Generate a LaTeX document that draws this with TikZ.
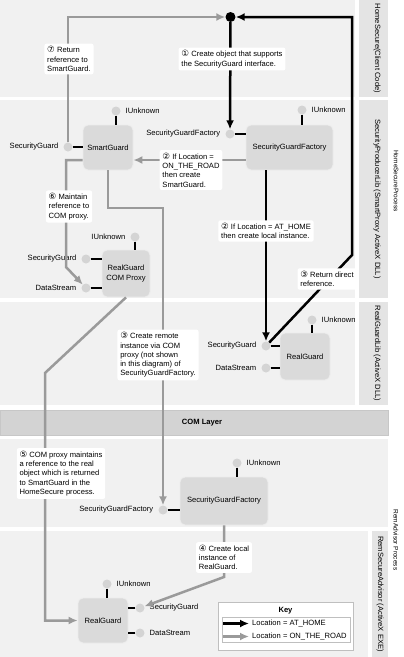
\documentclass[tikz,border=0pt]{standalone}
\usepackage{fontspec}
\setmainfont{Liberation Sans}
\newfontfamily\numfont{DejaVu Sans}
\usetikzlibrary{arrows.meta}

\definecolor{bandbg}{HTML}{F1F1F1}
\definecolor{stripbg}{HTML}{E4E4E4}
\definecolor{combg}{HTML}{D3D3D3}
\definecolor{boxbg}{HTML}{DADADA}
\definecolor{lollibg}{HTML}{D4D4D4}
\definecolor{roadgray}{HTML}{9A9A9A}

\newcommand{\diagfont}{\fontsize{7.6}{9.3}\selectfont}
\newcommand{\stepnum}[1]{{\numfont\fontsize{8.6}{9}\selectfont#1}}

\begin{document}
\begin{tikzpicture}[x=1pt,y=-1pt,font=\diagfont,label distance=1.5pt,
  band/.style={fill=bandbg},
  strip/.style={fill=stripbg},
  comp/.style={rounded corners=5pt,fill=boxbg,draw=black!7,line width=.8pt,align=center},
  lolli/.style={circle,fill=lollibg,inner sep=0pt,minimum size=9pt},
  stub/.style={line width=1.4pt},
  home/.style={line width=2.5pt,-{Latex[length=9pt,width=8pt]}},
  road/.style={line width=2.5pt,draw=roadgray,-{Latex[length=9pt,width=8pt]}},
  note/.style={fill=white,rounded corners=2pt,align=left,inner sep=2.8pt},
  vlabel/.style={rotate=-90}]
\useasboundingbox (0,0) rectangle (404,657);

% bands
\foreach \ya/\yb in {0/97,100/298,302/405} {
  \fill[band] (0,\ya) rectangle (355,\yb);
  \fill[strip] (359,\ya) rectangle (388,\yb);
}
\fill[combg,draw=black!22] (0,410) rectangle (388,435);
\fill[band] (0,439) rectangle (388,527);
\fill[band] (0,531) rectangle (368,657);
\fill[strip] (372,531) rectangle (388,657);

\node[font=\diagfont\bfseries] (com) at (202,422.5) {COM Layer};
\node[vlabel] (labClient) at (377,48.5) {HomeSecure(Client Code)};
\node[vlabel] (labLib) at (377,199) {SecurityProducerLib (SmartProxy ActiveX DLL)};
\node[vlabel] (labReal) at (377,353.5) {RealGuardLib (ActiveX DLL)};
\node[vlabel] (labExe) at (380,594) {RemSecureAdvisor (ActiveX EXE)};
\node[vlabel,font=\fontsize{6.5}{8}\selectfont] (labHome) at (396,181) {HomeSecureProcess};
\node[vlabel,font=\fontsize{6.5}{8}\selectfont] (labRem) at (396,540) {RemAdvisor Process};

% components
\node[comp,minimum width=50pt,minimum height=45pt] (smart) at (108,147.5) {SmartGuard};
\node[comp,minimum width=87pt,minimum height=45pt] (fac) at (289.5,147.5) {SecurityGuardFactory};
\node[comp,minimum width=48pt,minimum height=47pt] (proxy) at (126,273.5) {RealGuard\\COM Proxy};
\node[comp,minimum width=50pt,minimum height=47pt] (real) at (305,356.5) {RealGuard};
\node[comp,minimum width=88pt,minimum height=48pt] (rfac) at (224,501) {SecurityGuardFactory};
\node[comp,minimum width=50pt,minimum height=45pt] (rreal) at (103,620.5) {RealGuard};

% interfaces
\foreach \n/\x/\y/\pos/\txt in {
  smartI/116/111/right/IUnknown, smartSG/68/147/left/SecurityGuard,
  facI/302/110/right/IUnknown, facSGF/230/134/left/SecurityGuardFactory,
  proxyI/135/237/left/IUnknown, proxySG/86/259/left/SecurityGuard,
  proxyDS/86/288/left/DataStream,
  realI/312/320/right/IUnknown, realSG/266/346/left/SecurityGuard,
  realDS/266/368/left/DataStream,
  rfacI/237/463/right/IUnknown, rfacSGF/163/510/left/SecurityGuardFactory,
  rrealI/107/584/right/IUnknown, rrealSG/140/608/right/SecurityGuard,
  rrealDS/140/633/right/DataStream}
  \node[lolli,label={\pos:\txt}] (\n) at (\x,\y) {};

\foreach \a/\b in {smartI/smart,facI/fac,proxyI/proxy,realI/real,rfacI/rfac,rrealI/rreal}
  \draw[stub] (\a) -- (\a |- \b.north);
\foreach \a/\b in {smartSG/smart,facSGF/fac,proxySG/proxy,proxyDS/proxy,realSG/real,realDS/real,rfacSGF/rfac}
  \draw[stub] (\a) -- (\a -| \b.west);
\foreach \a/\b in {rrealSG/rreal,rrealDS/rreal}
  \draw[stub] (\a) -- (\a -| \b.east);

% calls
\node[circle,fill=black,minimum size=10pt,inner sep=0pt] (top) at (230.5,17) {};
\coordinate (homeBend) at (352,255);
\coordinate (roadY) at (0,160);
\coordinate (smartDrop) at (108,208);
\coordinate (proxyDrop) at (66,267);
\coordinate (remoteBend) at (45,373);
\coordinate (localBend) at (224,577);

\draw[home] (top) -- (facSGF);
\draw[home] (fac.south -| realSG) -- (realSG);
\draw[home] (realSG) -- (homeBend) |- (top);
\draw[road] (fac.west |- roadY) -- (smart.east |- roadY);
\draw[road] (smartSG) |- (top);
\draw[road] (smart.south) -- (smartDrop) -| (rfacSGF);
\draw[road] (smart.west |- roadY) -| (proxyDrop) -- (proxyDS);
\draw[road] (proxy.south) -- (remoteBend) |- (rreal.west);
\draw[road] (rfac.south) -- (localBend) -- (rrealSG);

% steps
\node[note] (n1) at (232,59) {\stepnum{①} Create object that supports\\the SecurityGuard interface.};
\node[note] (n7) at (69,59) {\stepnum{⑦} Return\\reference to\\SmartGuard.};
\node[note] (n2road) at (191,170) {\stepnum{②} If Location =\\ON\_THE\_ROAD\\then create\\SmartGuard.};
\node[note] (n6) at (69,206.5) {\stepnum{⑥} Maintain\\reference to\\COM proxy.};
\node[note] (n2home) at (266,231) {\stepnum{②} If Location = AT\_HOME\\then create local instance.};
\node[note] (n3home) at (327,279) {\stepnum{③} Return direct\\reference.};
\node[note] (n3road) at (158,355) {\stepnum{③} Create remote\\instance via COM\\proxy (not shown\\in this diagram) of\\SecurityGuardFactory.};
\node[note] (n5) at (61,473.5) {\stepnum{⑤} COM proxy maintains\\a reference to the real\\object which is returned\\to SmartGuard in the\\HomeSecure process.};
\node[note] (n4) at (224,557.5) {\stepnum{④} Create local\\instance of\\RealGuard.};

% key
\node[draw=black!25,fill=white,minimum width=135pt,minimum height=48pt] (key) at (285.5,626) {};
\node[font=\diagfont\bfseries] (keyT) at (285.5,610.5) {Key};
\node[draw=black!25,minimum width=128pt,minimum height=25pt] (keyIn) at (286,629.5) {};
\node[anchor=west,inner sep=0pt] (kHome) at (252,623.5) {Location = AT\_HOME};
\node[anchor=west,inner sep=0pt] (kRoad) at (252,636.5) {Location = ON\_THE\_ROAD};
\draw[home] ([xshift=1pt]kHome.west -| keyIn.west) -- ([xshift=-3pt]kHome.west);
\draw[road] ([xshift=1pt]kRoad.west -| keyIn.west) -- ([xshift=-3pt]kRoad.west);
\end{tikzpicture}
\end{document}
